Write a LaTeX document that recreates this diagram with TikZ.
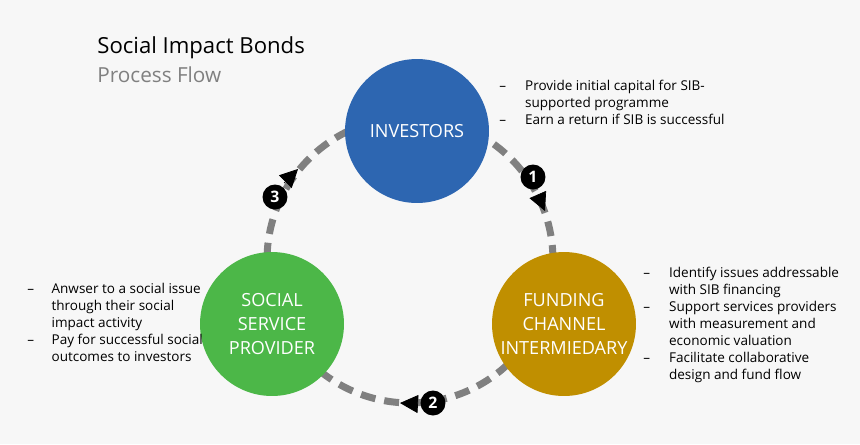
\documentclass[tikz,border=0pt]{standalone}
\usepackage{fontspec}
\setmainfont{Open Sans}
\usetikzlibrary{positioning}
\usetikzlibrary {arrows.meta}
\definecolor{bgray}{HTML}{F7F7F7}
\definecolor{invblue}{HTML}{2D66B1}
\definecolor{fundgold}{HTML}{C08F00}
\definecolor{socgreen}{HTML}{4CB748}
\definecolor{dashgray}{HTML}{808080}
\tikzset{actor/.style={circle,minimum size=2.88cm,inner sep=0pt,text=white,
align=center,font=\fontsize{10.3}{13.5}\selectfont}}
\tikzset{badge/.style={circle,fill=black,text=white,inner sep=0pt,
minimum size=0.5cm,font=\bfseries\fontsize{9}{9}\selectfont}}
\tikzset{notes/.style={inner sep=0pt,anchor=north west,align=left,
font=\fontsize{7.7}{9.7}\selectfont}}
\tikzset{flowstep/.style={line width=0.4pt,-{Triangle[length=3.6mm,width=3.6mm]}}}

\begin{document}
\begin{tikzpicture}[x=0.02cm,y=-0.02cm]
        \fill[bgray] (0,0) rectangle (860,444);
        \useasboundingbox (0,0) rectangle (860,444);

        \node[inner sep=0pt,anchor=west,font=\fontsize{12.6}{12}\selectfont] (title) at (97,48) {Social Impact Bonds};
        \node[inner sep=0pt,anchor=west,text=gray,font=\fontsize{11.8}{12}\selectfont] (subtitle) at (97,75) {Process Flow};

        \draw[dashgray,line width=0.14cm,dash pattern=on 0.3cm off 0.18cm] (410,260) circle[radius=2.86cm];

        \node[actor,fill=invblue] (inv) at (417,131) {INVESTORS};
        \node[actor,fill=fundgold] (fund) at (564,324) {FUNDING\\CHANNEL\\INTERMIEDARY};
        \node[actor,fill=socgreen] (soc) at (272,324) {SOCIAL\\SERVICE\\PROVIDER};

        \coordinate (s1) at (538,195);
        \coordinate (t1) at (545,211);
        \draw[flowstep] (s1) -- (t1);
        \coordinate (s2) at (418,404);
        \coordinate (t2) at (400,403);
        \draw[flowstep] (s2) -- (t2);
        \coordinate (s3) at (284,183);
        \coordinate (t3) at (298,169);
        \draw[flowstep] (s3) -- (t3);

        \node[badge] (b1) at (533,177) {1};
        \node[badge] (b2) at (433,403) {2};
        \node[badge] (b3) at (275,197) {3};

        \node[notes] (invnotes) at (499,78) {\begin{tabular}{@{}l@{\hspace{0.38cm}}l@{}}
        -- & Provide initial capital for SIB-\\
           & supported programme\\
        -- & Earn a return if SIB is successful
        \end{tabular}};
        \node[notes] (fundnotes) at (643,265) {\begin{tabular}{@{}l@{\hspace{0.38cm}}l@{}}
        -- & Identify issues addressable\\
           & with SIB financing\\
        -- & Support services providers\\
           & with measurement and\\
           & economic valuation\\
        -- & Facilitate collaborative\\
           & design and fund flow
        \end{tabular}};
        \node[notes] (socnotes) at (27,281) {\begin{tabular}{@{}l@{\hspace{0.35cm}}l@{}}
        -- & Anwser to a social issue\\
           & through their social\\
           & impact activity\\
        -- & Pay for successful social\\
           & outcomes to investors
        \end{tabular}};

\end{tikzpicture}
\end{document}
